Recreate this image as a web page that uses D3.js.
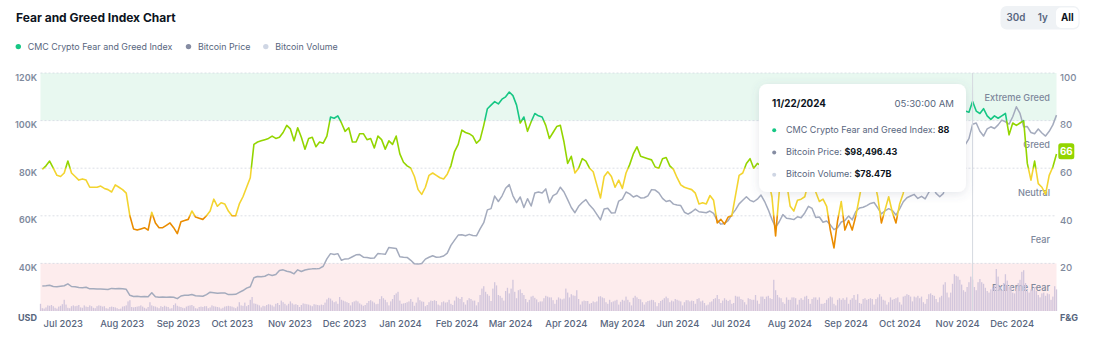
<!DOCTYPE html>
<html>
<head>
<meta charset="utf-8">
<script src="https://cdn.jsdelivr.net/npm/d3@7"></script>
<style>
  html, body { margin: 0; padding: 0; background: #fff; }
  svg text { font-family: Inter, "Noto Sans", sans-serif; }
</style>
</head>
<body>
<svg id="chart" width="1095" height="347"></svg>
<script>
// ---- data -------------------------------------------------------------
// Fear & Greed index, one reading every second day starting 2023-07-01
const fngStart = "2023-07-01";
const fngValues = [
  59.5,61,63,60,57,56.5,58,63,58,56.5,
  55,55.5,55,52,52,52,52.5,51.5,51,50,
  53,52,51,49.5,40,34.5,34,34.5,35,34,
  41.5,37,35,35,36,37,35,32.5,37.5,38,
  38.5,42,39.5,39,38.5,40,42,47,44,45.5,
  45,42,40,40,45,48,52,56,70,71,
  71.5,72,72.5,73.5,72.5,73,75,78,76.5,71.5,
  77,73,68,72.5,73,69,71,70.5,73.5,81.5,
  81,82,79,75.5,77,71,71,74.5,74.5,72,
  72.5,68.5,73.5,72,68,71.5,70,73.5,66,62.5,
  61,60,56.5,51,49,52,57,58,57,56,
  55.5,57.5,61,67,70,76,75,74.5,73.5,70.5,
  72,78,85,86.5,88,87,89,90,92,90.5,
  86.5,79,81.5,75.5,79.5,83,82,81.5,78,72.5,
  75,77.5,78,71,62,65,58,60,64,63,
  60,58.5,53,47.5,56.5,58.5,56.5,52,55,51.5,
  58,61.5,66,69,65,64.5,64,63.5,60.5,60,
  64,64.5,61,59.5,56,53,52,51.5,51,49.5,
  45,45.5,45,48.5,46.5,37,38.5,36.5,39.5,40,
  48.5,57,58,62,64,60,62,61,58,55,
  48,31.5,50,56,54,44,42,46.5,47,48,
  54,56,50,46,47,44,34,26.5,38,46,
  34,38,34,40,48,56,60,61,55,48,
  37,42.5,48,41.5,37,45,49.5,58,63,64,
  61,66,70,68,63,62,65,72,77,80,
  82,84,81,84,83.5,88,84,83,85,82,
  80.5,82,81,82,83,74,79,78,79,80,
  62,55,63,53.5,52,49,57,60.5,66
];

// Bitcoin price in USD, same dates as the index readings
const priceValues = [
  30500,30600,30800,30300,30200,30400,30600,31400,30300,30200,
  29900,29800,30000,29300,29300,29200,29200,29100,29000,29500,
  29400,29500,29300,29100,26600,26100,26200,26000,26100,26000,
  27700,26000,25800,25900,25800,25900,25800,25200,26300,26600,
  26600,26900,26400,26300,26200,26900,27900,27700,27500,27600,
  27600,26900,26900,27000,27800,28600,29600,30200,34000,34500,
  34400,34600,35400,34900,35300,37000,37300,36700,36400,35600,
  37300,36600,37200,37500,37700,37700,37900,38800,41900,44100,
  43700,44100,41300,41900,42000,42800,43600,43700,42600,42500,
  42200,42300,44200,44000,43800,46700,46500,46300,42800,42600,
  42500,41300,39800,39700,40000,41800,42600,43200,42600,42700,
  43100,44300,47600,49800,51900,52000,51600,52200,51700,51600,
  54500,57100,62500,63000,68300,66000,68300,71600,73100,68400,
  65500,67900,63500,67200,64100,69600,70000,69600,71300,65500,
  68500,69300,72000,70000,66800,63500,61300,64000,65600,66800,
  64500,62900,60600,58300,62900,63200,61200,61300,66200,67000,
  70000,69200,67900,68500,67500,67600,68400,71000,70800,69600,
  67300,66000,66400,64900,64500,64300,61500,60700,61600,62800,
  61700,61500,61300,62000,61000,58000,56500,56800,58000,60500,
  62500,65000,66500,68000,66500,65900,67000,68700,66000,62500,
  58500,55200,57500,60500,59000,58800,58400,59600,59200,61200,
  64000,63100,59300,59500,57300,57800,56200,54200,55000,57400,
  58000,59900,58300,61800,63300,63600,64300,65200,65600,63300,
  60800,62100,63000,62200,60300,62900,65900,67600,68300,69000,
  67300,68200,67100,69900,72300,69400,68000,69400,75900,77000,
  88700,90400,87400,89900,92400,98496.43,99000,95500,93500,96500,
  97400,96700,98200,100200,99500,98500,101600,105800,103000,97400,
  97500,95000,94500,96500,94800,93500,95500,98200,102300
];

// Bitcoin daily trading volume in billions of USD, starting 2023-06-30
const volumeStart = "2023-06-30";
const volumeValues = [
  18,
  7,6,9,14,13,15,12,8,6,11,13,17,28,16,8,7,12,14,12,13,15,9,8,14,11,10,14,12,8,7,12,
  14,13,11,12,7,6,10,11,10,9,7,5,6,11,12,14,24,27,10,9,10,11,12,14,11,8,6,10,22,14,12,
  11,9,7,12,10,13,11,10,6,7,15,19,13,11,10,8,7,11,13,14,15,12,7,6,10,11,10,12,12,7,
  9,14,12,11,10,9,6,8,11,12,13,12,11,9,7,11,22,14,13,21,12,15,28,35,19,18,16,14,9,13,12,
  15,17,16,14,11,18,20,15,26,22,18,14,18,24,19,16,17,15,10,15,19,18,17,16,14,12,17,16,15,14,
  16,15,21,29,33,31,26,22,24,18,35,28,26,24,22,20,14,22,24,26,24,19,16,13,15,20,25,27,24,21,17,
  18,30,37,32,28,22,14,24,30,40,44,48,26,18,19,20,22,24,30,23,13,21,34,27,24,23,12,15,22,26,25,
  27,25,16,14,22,24,21,22,28,18,15,26,36,33,30,35,22,16,27,32,30,26,26,14,22,40,56,62,48,
  42,38,25,56,72,64,40,38,33,26,50,58,44,56,78,48,32,52,54,45,40,30,22,28,36,38,33,29,22,24,24,
  32,38,36,34,34,27,18,28,34,31,29,31,56,46,34,42,39,38,52,30,16,24,26,25,25,18,20,24,22,24,
  36,37,34,32,22,18,28,22,24,26,28,16,23,28,26,36,28,22,14,33,38,34,30,29,22,16,22,25,26,28,27,
  22,12,20,25,28,32,36,32,22,26,24,30,28,26,24,14,22,27,27,24,26,25,18,30,32,24,26,20,14,16,
  22,24,30,32,40,30,20,26,32,28,25,28,18,20,38,36,36,30,28,22,16,32,30,28,28,40,26,18,36,36,30,
  36,38,32,30,78,52,40,34,32,22,18,34,28,28,34,34,32,16,28,32,28,36,38,30,18,30,34,34,28,34,18,
  18,20,28,32,36,34,18,14,28,32,28,32,28,34,18,28,32,40,28,42,20,18,30,32,28,30,32,30,16,30,
  34,42,36,28,26,16,22,34,28,30,32,34,22,16,36,38,42,40,36,24,36,34,38,32,36,22,18,30,42,44,40,
  38,30,22,34,38,66,72,46,34,46,68,92,88,86,78,66,52,48,60,72,86,78.47,60,52,72,80,72,68,58,50,
  46,54,60,64,105,86,60,52,70,92,76,60,62,46,44,56,70,78,98,102,70,50,46,54,52,60,50,40,34,44,46,
  38,44,42,28,36,62,54
];

// axis labels
const priceTicks = [20000, 40000, 60000, 80000, 100000, 120000];
const priceTickLabels = ["USD", "40K", "60K", "80K", "100K", "120K"];
const fngTicks = [0, 20, 40, 60, 80, 100];
const fngTickLabels = ["F&G", "20", "40", "60", "80", "100"];
const zoneNames = ["Extreme Fear", "Fear", "Neutral", "Greed", "Extreme Greed"];
const zoneColors = ["#ea3943", "#ea8c00", "#f3d42f", "#93d500", "#16c784"];

const legendItems = [
  { name: "CMC Crypto Fear and Greed Index", color: "#16c784" },
  { name: "Bitcoin Price", color: "#858ca2" },
  { name: "Bitcoin Volume", color: "#cfd6e4" }
];
const rangeButtons = ["30d", "1y", "All"];
const hoverDate = "2024-11-22";

// ---- series -----------------------------------------------------------
const parse = d3.utcParse("%Y-%m-%d");
const fng = fngValues.map((v, i) => ({ date: d3.utcDay.offset(parse(fngStart), i * 2), value: v }));
const price = priceValues.map((v, i) => ({ date: d3.utcDay.offset(parse(fngStart), i * 2), value: v }));
const volume = volumeValues.map((v, i) => ({ date: d3.utcDay.offset(parse(volumeStart), i), value: v }));

// ---- layout -----------------------------------------------------------
const plot = { left: 40.5, right: 1056.5, top: 73, bottom: 311 };
const svg = d3.select("#chart");

const x = d3.scaleUtc()
  .domain([parse("2023-06-30"), parse("2025-01-07")])
  .range([plot.left, plot.right]);
const yF = d3.scaleLinear().domain([0, 100]).range([plot.bottom, plot.top]);
const yP = d3.scaleLinear().domain([20000, 120000]).range([plot.bottom, plot.top]);
const yV = d3.scaleLinear().domain([0, 200]).range([plot.bottom, plot.bottom - 80]);

const defs = svg.append("defs");
const shadow = defs.append("filter").attr("id", "tipShadow")
  .attr("x", "-20%").attr("y", "-20%").attr("width", "140%").attr("height", "150%");
shadow.append("feDropShadow").attr("dx", 0).attr("dy", 2).attr("stdDeviation", 5)
  .attr("flood-color", "#586680").attr("flood-opacity", 0.16);

// colour of the index line follows its value
const grad = defs.append("linearGradient").attr("id", "fngGrad")
  .attr("gradientUnits", "userSpaceOnUse")
  .attr("x1", 0).attr("x2", 0).attr("y1", yF(0)).attr("y2", yF(100));
zoneColors.forEach((c, i) => {
  grad.append("stop").attr("offset", (i * 20 + 0.6) / 100).attr("stop-color", c);
  grad.append("stop").attr("offset", (i * 20 + 19.4) / 100).attr("stop-color", c);
});
const fngColor = v => zoneColors[Math.min(4, Math.floor(v / 20))];

// ---- header -----------------------------------------------------------
svg.append("text").attr("x", 16).attr("y", 22)
  .attr("font-size", 12).attr("font-weight", 700).attr("fill", "#0d1421")
  .text("Fear and Greed Index Chart");

const legend = svg.append("g").attr("font-size", 8.9).attr("fill", "#58667e");
const legendX = [18.3, 188.5, 265.8];
legendItems.forEach((it, i) => {
  legend.append("circle").attr("cx", legendX[i]).attr("cy", 46.6).attr("r", 2.7).attr("fill", it.color);
  legend.append("text").attr("x", legendX[i] + 9.4).attr("y", 49.8).text(it.name);
});

const btn = svg.append("g");
btn.append("rect").attr("x", 1000.5).attr("y", 6).attr("width", 79).attr("height", 23.5).attr("rx", 6).attr("fill", "#eff2f5");
btn.append("rect").attr("x", 1056).attr("y", 7.5).attr("width", 22.5).attr("height", 20.5).attr("rx", 5).attr("fill", "#fff");
const btnX = [1016, 1042.8, 1067.3];
rangeButtons.forEach((b, i) => {
  btn.append("text").attr("x", btnX[i]).attr("y", 21).attr("text-anchor", "middle")
    .attr("font-size", 9.8).attr("font-weight", i === 2 ? 700 : 600)
    .attr("fill", i === 2 ? "#0d1421" : "#58667e").text(b);
});

// ---- zones and grid -----------------------------------------------------
const pw = plot.right - plot.left;
svg.append("rect").attr("x", plot.left).attr("width", pw)
  .attr("y", yF(100)).attr("height", yF(80) - yF(100)).attr("fill", "#e8f8f0");
svg.append("rect").attr("x", plot.left).attr("width", pw)
  .attr("y", yF(20)).attr("height", yF(0) - yF(20)).attr("fill", "#fdeced");

svg.append("g").selectAll("line").data(fngTicks.filter(d => d > 0)).join("line")
  .attr("x1", plot.left).attr("x2", plot.right)
  .attr("y1", d => yF(d)).attr("y2", d => yF(d))
  .attr("stroke", "#d3d8e1").attr("stroke-width", 0.8).attr("stroke-dasharray", "2,2");

// zone names along the right edge
svg.append("g").selectAll("text").data(zoneNames).join("text")
  .attr("x", 1050).attr("y", (d, i) => yF(i * 20 + 10) + 3.8)
  .attr("text-anchor", "end").attr("font-size", 9.2).attr("font-weight", 500)
  .attr("fill", "#7d879b").text(d => d);

// ---- volume bars --------------------------------------------------------
svg.append("g").selectAll("rect").data(volume).join("rect")
  .attr("x", d => x(d.date) - 0.65).attr("width", 1.3)
  .attr("y", d => yV(d.value)).attr("height", d => yV(0) - yV(d.value))
  .attr("fill", "#d2c6dc");

// ---- lines --------------------------------------------------------------
svg.append("path").datum(price)
  .attr("d", d3.line().x(d => x(d.date)).y(d => yP(d.value)))
  .attr("fill", "none").attr("stroke", "#a4abbd").attr("stroke-width", 1.5)
  .attr("stroke-linejoin", "round");

svg.append("path").datum(fng)
  .attr("d", d3.line().x(d => x(d.date)).y(d => yF(d.value)))
  .attr("fill", "none").attr("stroke", "url(#fngGrad)").attr("stroke-width", 1.6)
  .attr("stroke-linejoin", "round");

// ---- axes ---------------------------------------------------------------
const left = svg.append("g").attr("transform", `translate(${plot.left},0)`)
  .call(d3.axisLeft(yP).tickValues(priceTicks).tickSize(0).tickPadding(3.5)
    .tickFormat((d, i) => priceTickLabels[i]));
left.select(".domain").remove();
left.selectAll("text").attr("y", 4.2).attr("font-size", 9).attr("font-weight", 600)
  .attr("fill", "#808a9d").style("font-family", "Inter, sans-serif");
left.selectAll(".tick").filter(d => d === 20000).select("text")
  .attr("y", 7).attr("font-weight", 700).attr("fill", "#58667e");

const right = svg.append("g").attr("transform", `translate(${plot.right},0)`)
  .call(d3.axisRight(yF).tickValues(fngTicks).tickSize(0).tickPadding(3.5)
    .tickFormat((d, i) => fngTickLabels[i]));
right.select(".domain").remove();
right.selectAll("text").attr("y", 4.2).attr("font-size", 9.6).attr("font-weight", 500)
  .attr("fill", "#808a9d").style("font-family", "Inter, sans-serif");
right.selectAll(".tick").filter(d => d === 0).select("text")
  .attr("y", 7).attr("font-size", 9).attr("font-weight", 700).attr("fill", "#58667e");

const months = d3.utcMonth.range(parse("2023-07-01"), parse("2025-01-01"));
const bottom = svg.append("g").attr("transform", `translate(0,${plot.bottom})`)
  .call(d3.axisBottom(x).tickValues(months).tickSize(0).tickPadding(0)
    .tickFormat(d3.utcFormat("%b %Y")));
bottom.select(".domain").remove();
bottom.selectAll("text").attr("text-anchor", "start").attr("x", 0.8).attr("y", 16.4).attr("dy", 0)
  .attr("font-size", 9.4).attr("font-weight", 500).attr("fill", "#58667e")
  .style("font-family", "Inter, sans-serif");

// ---- current value badge -----------------------------------------------
const last = fng[fng.length - 1];
const badgeY = yF(last.value) - 2.6;
svg.append("rect").attr("x", plot.right + 1.8).attr("y", badgeY - 8).attr("width", 16).attr("height", 16)
  .attr("rx", 2.5).attr("fill", fngColor(last.value));
svg.append("text").attr("x", plot.right + 9.8).attr("y", badgeY + 3.6).attr("text-anchor", "middle")
  .attr("font-size", 9.8).attr("font-weight", 700).attr("fill", "#fff").text(d3.format("d")(last.value));

// ---- hover state ----------------------------------------------------------
const hd = parse(hoverDate);
const same = d => +d.date === +hd;
const hF = fng.find(same), hP = price.find(same), hV = volume.find(same);
const hx = x(hd);
svg.append("line").attr("x1", hx).attr("x2", hx).attr("y1", plot.top).attr("y2", plot.bottom)
  .attr("stroke", "#d5d9e0").attr("stroke-width", 1);

const tip = svg.append("g").attr("transform", "translate(759,84)");
tip.append("rect").attr("width", 207).attr("height", 108).attr("rx", 8)
  .attr("fill", "#fff").attr("filter", "url(#tipShadow)");
tip.append("text").attr("x", 13).attr("y", 23).attr("font-size", 9.8).attr("font-weight", 700)
  .attr("fill", "#0d1421").text(d3.utcFormat("%m/%d/%Y")(hd));
tip.append("text").attr("x", 195).attr("y", 23).attr("text-anchor", "end").attr("font-size", 9.6)
  .attr("fill", "#58667e").text("05:30:00 AM");

const rows = [
  { label: legendItems[0].name + ": ", value: d3.format("d")(hF.value), color: legendItems[0].color },
  { label: legendItems[1].name + ": ", value: "$" + d3.format(",.2f")(hP.value), color: legendItems[1].color },
  { label: legendItems[2].name + ": ", value: "$" + d3.format(".2f")(hV.value) + "B", color: legendItems[2].color }
];
rows.forEach((r, i) => {
  const ry = 48.8 + i * 22.3;
  tip.append("circle").attr("cx", 15.2).attr("cy", ry - 2.6).attr("r", 2).attr("fill", r.color);
  const t = tip.append("text").attr("x", 27).attr("y", ry).attr("font-size", 9).attr("fill", "#58667e");
  t.append("tspan").text(r.label);
  t.append("tspan").attr("font-weight", 700).attr("fill", "#0d1421").text(r.value);
});
</script>
</body>
</html>
